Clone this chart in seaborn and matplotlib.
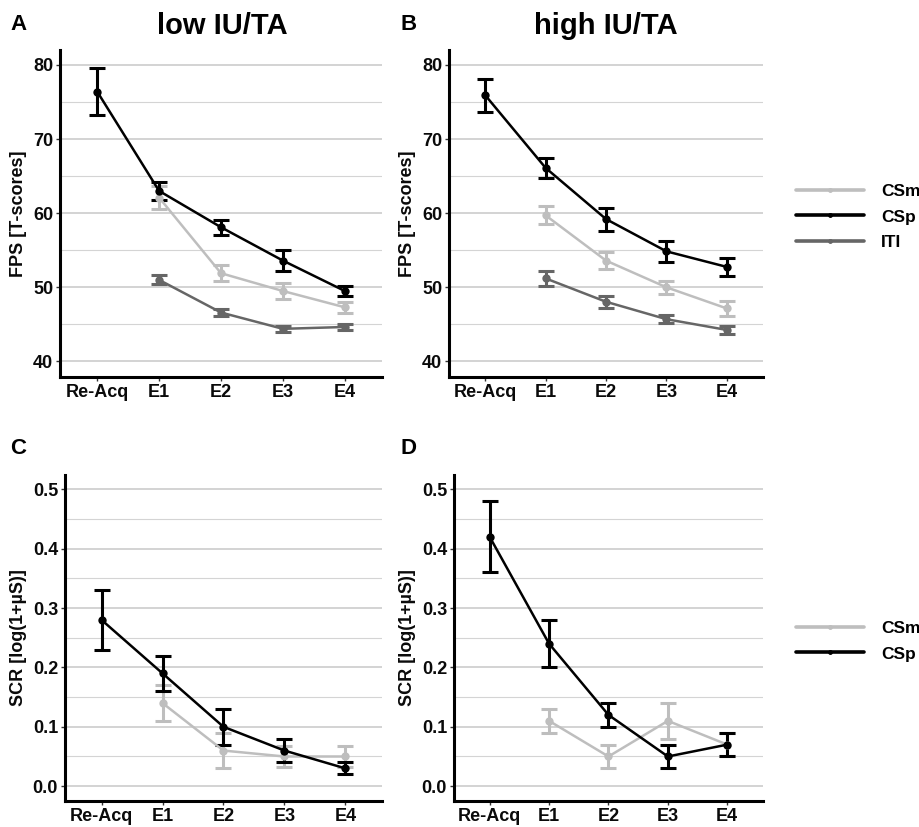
import numpy as np
import pandas as pd
import seaborn as sns
import matplotlib.pyplot as plt
from matplotlib.lines import Line2D
from matplotlib.ticker import MultipleLocator

phases = ["Re-Acq", "E1", "E2", "E3", "E4"]
nan = np.nan

# FPS, low IU/TA
fps_low_csp = [76.4, 63.0, 58.1, 53.6, 49.5]
fps_low_csp_err = [3.2, 1.2, 1.0, 1.4, 0.65]
fps_low_csm = [nan, 62.1, 51.9, 49.5, 47.3]
fps_low_csm_err = [nan, 1.5, 1.1, 1.05, 0.7]
fps_low_iti = [nan, 51.0, 46.6, 44.4, 44.65]
fps_low_iti_err = [nan, 0.6, 0.45, 0.4, 0.4]

# FPS, high IU/TA
fps_high_csp = [75.9, 66.1, 59.2, 54.85, 52.75]
fps_high_csp_err = [2.2, 1.4, 1.55, 1.4, 1.2]
fps_high_csm = [nan, 59.7, 53.6, 50.0, 47.15]
fps_high_csm_err = [nan, 1.2, 1.1, 0.9, 1.0]
fps_high_iti = [nan, 51.2, 48.05, 45.7, 44.25]
fps_high_iti_err = [nan, 1.0, 0.8, 0.55, 0.5]

# SCR, low IU/TA
scr_low_csp = [0.28, 0.19, 0.10, 0.06, 0.03]
scr_low_csp_err = [0.05, 0.03, 0.03, 0.02, 0.01]
scr_low_csm = [nan, 0.14, 0.06, 0.05, 0.05]
scr_low_csm_err = [nan, 0.03, 0.03, 0.018, 0.018]

# SCR, high IU/TA
scr_high_csp = [0.42, 0.24, 0.12, 0.05, 0.07]
scr_high_csp_err = [0.06, 0.04, 0.02, 0.02, 0.02]
scr_high_csm = [nan, 0.11, 0.05, 0.11, 0.07]
scr_high_csm_err = [nan, 0.02, 0.02, 0.03, 0.02]

colors = {"CSm": "#BEBEBE", "CSp": "#000000", "ITI": "#666666"}

sns.set_theme(style="white")
plt.rcParams['font.family'] = ['Liberation Sans', 'DejaVu Sans']
plt.rcParams['font.weight'] = 'bold'
plt.rcParams['text.color'] = '#000000'


def make_df(series):
    rows = []
    for cond, vals, errs in series:
        for i, (v, e) in enumerate(zip(vals, errs)):
            if not np.isnan(v):
                rows.append({"pos": i, "phase": phases[i], "cond": cond, "value": v, "err": e})
    return pd.DataFrame(rows)


def draw_panel(ax, df, ylim, major, ylabel, yfmt):
    for cond in ["CSm", "CSp", "ITI"]:
        sub = df[df["cond"] == cond]
        if sub.empty:
            continue
        ax.errorbar(sub["pos"], sub["value"], yerr=sub["err"], fmt="none",
                    ecolor=colors[cond], elinewidth=2.2, capsize=5.5, capthick=2.2, zorder=3)
    sns.lineplot(data=df, x="pos", y="value", hue="cond", palette=colors,
                 hue_order=[c for c in ["CSm", "CSp", "ITI"] if c in df["cond"].values],
                 marker="o", markersize=6, markeredgewidth=0, linewidth=1.8,
                 errorbar=None, legend=False, ax=ax, zorder=4)
    ax.set_xlim(-0.6, 4.6)
    ax.set_ylim(*ylim)
    ax.set_xticks(range(len(phases)))
    ax.set_xticklabels(phases)
    ax.yaxis.set_major_locator(MultipleLocator(major))
    ax.yaxis.set_minor_locator(MultipleLocator(major / 2))
    ax.yaxis.set_major_formatter(plt.FuncFormatter(lambda v, p: yfmt.format(v)))
    ax.grid(True, axis="y", which="major", color="#C8C8C8", linewidth=1.1)
    ax.grid(True, axis="y", which="minor", color="#D4D4D4", linewidth=0.8)
    ax.grid(False, axis="x")
    ax.set_axisbelow(True)
    for s in ["top", "right"]:
        ax.spines[s].set_visible(False)
    for s in ["left", "bottom"]:
        ax.spines[s].set_color("black")
        ax.spines[s].set_linewidth(2.2)
    ax.tick_params(axis="both", which="major", length=3, width=1, color="#333333",
                   labelsize=13, labelcolor="#0a0a0a", pad=2, left=True, bottom=True)
    ax.tick_params(axis="y", which="minor", length=0)
    for lab in ax.get_xticklabels() + ax.get_yticklabels():
        lab.set_fontweight("bold")
    ax.set_xlabel("")
    ax.set_ylabel(ylabel, fontsize=13, fontweight="bold", color="#0a0a0a", labelpad=4)


fig = plt.figure(figsize=(9.19, 8.27), dpi=100)
axA = fig.add_axes([0.0653, 0.5441, 0.3504, 0.3954])
axB = fig.add_axes([0.4886, 0.5441, 0.3417, 0.3954])
axC = fig.add_axes([0.0707, 0.0314, 0.3449, 0.3942])
axD = fig.add_axes([0.4940, 0.0314, 0.3362, 0.3942])

dfA = make_df([("CSm", fps_low_csm, fps_low_csm_err), ("CSp", fps_low_csp, fps_low_csp_err),
               ("ITI", fps_low_iti, fps_low_iti_err)])
dfB = make_df([("CSm", fps_high_csm, fps_high_csm_err), ("CSp", fps_high_csp, fps_high_csp_err),
               ("ITI", fps_high_iti, fps_high_iti_err)])
dfC = make_df([("CSm", scr_low_csm, scr_low_csm_err), ("CSp", scr_low_csp, scr_low_csp_err)])
dfD = make_df([("CSm", scr_high_csm, scr_high_csm_err), ("CSp", scr_high_csp, scr_high_csp_err)])

draw_panel(axA, dfA, (37.9, 82.0), 10, "FPS [T-scores]", "{:.0f}")
draw_panel(axB, dfB, (37.9, 82.0), 10, "FPS [T-scores]", "{:.0f}")
draw_panel(axC, dfC, (-0.025, 0.524), 0.1, "SCR [log(1+µS)]", "{:.1f}")
draw_panel(axD, dfD, (-0.025, 0.524), 0.1, "SCR [log(1+µS)]", "{:.1f}")

# titles and panel letters
fig.text(222 / 919, 1 - 26 / 827, "low IU/TA", ha="center", va="center", fontsize=21,
         fontweight="bold", color="black")
fig.text(606 / 919, 1 - 26 / 827, "high IU/TA", ha="center", va="center", fontsize=21,
         fontweight="bold", color="black")
for letter, x, y in [("A", 10, 25), ("B", 400, 25), ("C", 10, 448), ("D", 400, 448)]:
    fig.text(x / 919, 1 - y / 827, letter, ha="left", va="center", fontsize=16,
             fontweight="bold", color="black")


def handle(c):
    return Line2D([], [], color=colors[c], linewidth=2.6, marker="o", markersize=2.5)


leg_kw = dict(loc="center left", frameon=False, handlelength=3.9, handletextpad=1.0,
              labelspacing=0.62, borderaxespad=0, borderpad=0,
              prop={"weight": "bold", "size": 12.5}, labelcolor="black")
legA = fig.legend([handle(c) for c in ["CSm", "CSp", "ITI"]], ["CSm", "CSp", "ITI"],
                  bbox_to_anchor=(0.866, 1 - 217 / 827), **leg_kw)
legD = fig.legend([handle(c) for c in ["CSm", "CSp"]], ["CSm", "CSp"],
                  bbox_to_anchor=(0.866, 1 - 641 / 827), **leg_kw)

fig.savefig("out.png", dpi=100)
